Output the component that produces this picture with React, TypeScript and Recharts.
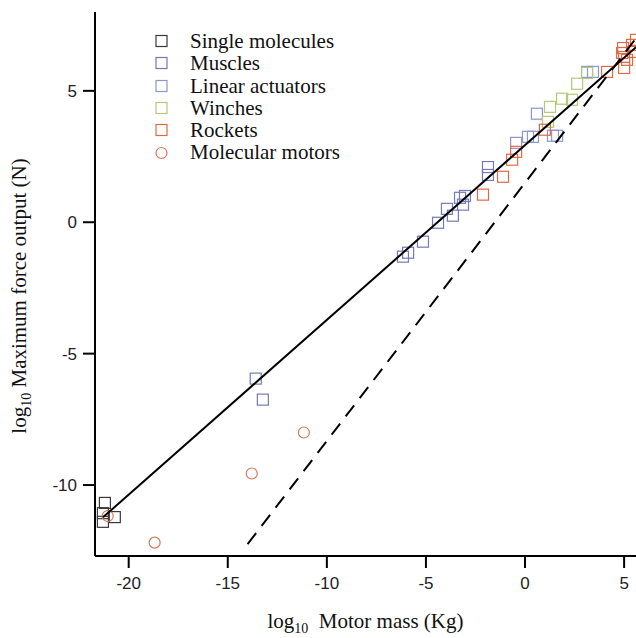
import { ScatterChart, Scatter, XAxis, YAxis } from "recharts";

// log10 mass (kg) / log10 force (N)
const singleMass = [-21.2, -21.3, -20.7, -21.3];
const singleForce = [-10.68, -11.07, -11.22, -11.4];

const muscleMass = [-13.59, -13.23, -6.16, -5.9, -5.15, -4.39, -3.94, -3.64, -3.28, -3.03, -3.13, -1.87, -1.87];
const muscleForce = [-5.95, -6.75, -1.31, -1.16, -0.74, -0.02, 0.51, 0.25, 0.93, 1.0, 0.67, 2.1, 1.8];

const actuatorMass = [-0.45, 0.15, 0.4, 0.6, 1.41, 1.62, 3.13, 3.43];
const actuatorForce = [3.02, 3.25, 3.25, 4.13, 3.29, 3.29, 5.72, 5.72];

const winchMass = [1.16, 1.26, 1.87, 2.37, 2.63, 3.13];
const winchForce = [3.82, 4.39, 4.7, 4.66, 5.27, 5.68];

const rocketMass = [-2.12, -1.11, -0.65, -0.45, 1.0, 4.14, 4.95, 4.9, 5.4, 5.0, 5.15, 5.0, 5.45, 5.6];
const rocketForce = [1.05, 1.73, 2.38, 2.68, 3.52, 5.72, 6.63, 6.44, 6.75, 6.29, 6.18, 5.87, 6.48, 6.94];

const motorMass = [-21.06, -18.69, -13.79, -11.16];
const motorForce = [-11.18, -12.19, -9.56, -8.0];

const fitMass = [-21.3, 5.6];
const fitForce = [-11.23, 6.66];
const dashMass = [-14.0, 5.6];
const dashForce = [-12.25, 7.0];

const xTicks = [-20, -15, -10, -5, 0, 5];
const yTicks = [-10, -5, 0, 5];

const zip = (xs: number[], ys: number[]) => xs.map((x, i) => ({ x, y: ys[i] }));

const series = [
  { name: "Single molecules", color: "#3a3a3a", shape: "square", data: zip(singleMass, singleForce) },
  { name: "Muscles", color: "#7479b8", shape: "square", data: zip(muscleMass, muscleForce) },
  { name: "Linear actuators", color: "#8f95cf", shape: "square", data: zip(actuatorMass, actuatorForce) },
  { name: "Winches", color: "#b5c97a", shape: "square", data: zip(winchMass, winchForce) },
  { name: "Rockets", color: "#e06a45", shape: "square", data: zip(rocketMass, rocketForce) },
  { name: "Molecular motors", color: "#d9785c", shape: "circle", data: zip(motorMass, motorForce) },
];

const serif = "'Liberation Serif', 'Times New Roman', serif";
const sans = "'Liberation Sans', Arial, sans-serif";

function Square(props: any) {
  const { cx, cy, color } = props;
  return <rect x={cx - 5.5} y={cy - 5.5} width={11} height={11} fill="none" stroke={color} strokeWidth={1.2} />;
}

function Ring(props: any) {
  const { cx, cy, color } = props;
  return <circle cx={cx} cy={cy} r={5.5} fill="none" stroke={color} strokeWidth={1.2} />;
}

function LegendBox() {
  return (
    <div
      style={{
        position: "absolute",
        left: 154,
        top: 30,
        fontFamily: serif,
        fontSize: 21,
        color: "#111",
        lineHeight: "22.3px",
      }}
    >
      {series.map((s) => (
        <div key={s.name} style={{ display: "flex", alignItems: "center" }}>
          <svg width={24} height={14} style={{ marginRight: 12 }}>
            {s.shape === "square" ? (
              <rect x={2} y={1.5} width={11} height={11} fill="none" stroke={s.color} strokeWidth={1.2} />
            ) : (
              <circle cx={7.5} cy={7} r={5.5} fill="none" stroke={s.color} strokeWidth={1.2} />
            )}
          </svg>
          <span>{s.name}</span>
        </div>
      ))}
    </div>
  );
}

export default function App() {
  return (
    <div style={{ position: "absolute", left: 0, top: 0, width: 636, height: 638, background: "#fff" }}>
      <ScatterChart width={636} height={638} margin={{ top: 12, right: 0, bottom: 0, left: 0 }}>
        <XAxis
          type="number"
          dataKey="x"
          domain={[-21.7, 5.6]}
          ticks={xTicks}
          allowDataOverflow
          height={82}
          tickSize={12}
          tickMargin={9}
          stroke="#000"
          strokeWidth={2}
          tick={{ fill: "#222", fontSize: 17, fontFamily: sans }}
          label={(p: any) => {
            const vb = p.viewBox;
            return (
              <text x={vb.x + vb.width / 2} y={vb.y + 72} textAnchor="middle" fontFamily={serif} fontSize={21} fill="#111">
                log<tspan fontSize={14} dy={5}>10</tspan>
                <tspan dy={-5}>{"\u00a0\u00a0Motor mass (Kg)"}</tspan>
              </text>
            );
          }}
        />
        <YAxis
          type="number"
          dataKey="y"
          domain={[-12.7, 8.0]}
          ticks={yTicks}
          allowDataOverflow
          width={95}
          tickSize={12}
          tickMargin={6}
          stroke="#000"
          strokeWidth={2}
          tick={{ fill: "#222", fontSize: 17, fontFamily: sans }}
          label={(p: any) => {
            const vb = p.viewBox;
            const cx = 26;
            const cy = vb.y + vb.height / 2 + 12;
            return (
              <text x={cx} y={cy} transform={`rotate(-90 ${cx} ${cy})`} textAnchor="middle" fontFamily={serif} fontSize={21} fill="#111">
                log<tspan fontSize={14} dy={5}>10</tspan>
                <tspan dy={-5}>{" Maximum force output (N)"}</tspan>
              </text>
            );
          }}
        />
        {series.map((s) => (
          <Scatter
            key={s.name}
            name={s.name}
            data={s.data}
            isAnimationActive={false}
            shape={(p: any) => (s.shape === "square" ? <Square {...p} color={s.color} /> : <Ring {...p} color={s.color} />)}
          />
        ))}
        <Scatter
          data={zip(fitMass, fitForce)}
          isAnimationActive={false}
          line={{ stroke: "#000", strokeWidth: 2 }}
          shape={() => <g />}
        />
        <Scatter
          data={zip(dashMass, dashForce)}
          isAnimationActive={false}
          line={{ stroke: "#000", strokeWidth: 2, strokeDasharray: "14 9" }}
          shape={() => <g />}
        />
      </ScatterChart>
      <LegendBox />
    </div>
  );
}
